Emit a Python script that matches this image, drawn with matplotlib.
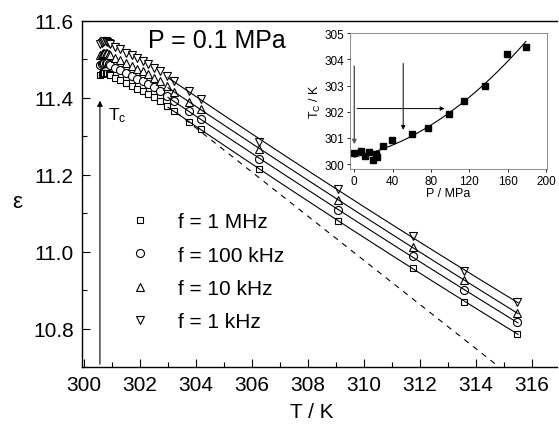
import numpy as np
import matplotlib
matplotlib.use("Agg")
import matplotlib.pyplot as plt
from matplotlib.ticker import MultipleLocator, FormatStrFormatter
from matplotlib.lines import Line2D

plt.rcParams['font.family'] = ['Liberation Sans', 'DejaVu Sans']
plt.rcParams['mathtext.default'] = 'regular'

# temperatures (K), shared by all four frequencies
T = [300.58, 300.63, 300.68, 300.73, 300.78, 300.83, 300.88, 300.93, 301.10, 301.30,
     301.50, 301.70, 301.90, 302.10, 302.30, 302.50, 302.70, 302.95, 303.20, 303.76,
     304.17, 306.26, 309.06, 311.76, 313.58, 315.45]

eps_1MHz = [11.460, 11.463, 11.465, 11.466, 11.466, 11.465, 11.463, 11.460, 11.452, 11.446,
            11.439, 11.431, 11.423, 11.418, 11.410, 11.401, 11.392, 11.380, 11.366, 11.337,
            11.319, 11.214, 11.080, 10.958, 10.870, 10.787]
eps_100kHz = [11.486, 11.488, 11.490, 11.491, 11.491, 11.490, 11.488, 11.485, 11.478, 11.472,
              11.465, 11.458, 11.450, 11.443, 11.435, 11.427, 11.418, 11.406, 11.391, 11.365,
              11.346, 11.240, 11.109, 10.989, 10.900, 10.816]
eps_10kHz = [11.512, 11.515, 11.517, 11.518, 11.518, 11.517, 11.515, 11.512, 11.505, 11.498,
             11.491, 11.484, 11.476, 11.469, 11.461, 11.452, 11.444, 11.432, 11.415, 11.390,
             11.371, 11.268, 11.134, 11.012, 10.925, 10.841]
eps_1kHz = [11.541, 11.544, 11.546, 11.547, 11.547, 11.546, 11.544, 11.540, 11.533, 11.526,
            11.518, 11.511, 11.503, 11.495, 11.487, 11.478, 11.470, 11.458, 11.443, 11.417,
            11.397, 11.286, 11.162, 11.042, 10.949, 10.869]

labels = ['f = 1 MHz', 'f = 100 kHz', 'f = 10 kHz', 'f = 1 kHz']
markers = ['s', 'o', '^', 'v']

# dashed reference line (two end points)
dash_T = [303.3, 315.0]
dash_eps = [11.362, 10.690]

# inset: Curie temperature vs pressure
P = [0, 7.0, 10.8, 15.5, 19.2, 22.7, 23.8, 30.0, 39.2, 60.2, 76.5, 98.8, 114.8, 136.4, 159.0, 179.1]
Tc = [300.43, 300.51, 300.31, 300.45, 300.14, 300.38, 300.27, 300.68, 300.90, 301.14,
      301.37, 301.92, 302.42, 303.00, 304.20, 304.49]

fig = plt.figure(figsize=(5.59, 4.27), dpi=100)
ax = fig.add_axes([0.1467, 0.1382, 0.8497, 0.8103])


def msize(m):
    return 5.0 if m == 's' else 5.8


series = [eps_1MHz, eps_100kHz, eps_10kHz, eps_1kHz]
Ta = np.array(T)
for eps, m in zip(series, markers):
    ax.plot(T, eps, linestyle='none', marker=m, markersize=msize(m),
            mfc='white', mec='black', mew=0.8)
    sel = Ta >= 303.0
    coef = np.polyfit(Ta[sel], np.array(eps)[sel], 2)
    tt = np.linspace(303.0, 315.5, 100)
    ax.plot(tt, np.polyval(coef, tt), color='black', lw=0.8)

ax.plot(dash_T, dash_eps, color='black', lw=0.8, ls=(0, (5, 5)))

ax.annotate('', xy=(300.57, 11.40), xytext=(300.57, 10.70),
            arrowprops=dict(arrowstyle='-|>', color='black', lw=0.8, mutation_scale=8))
ax.text(300.85, 11.357, 'T$_c$', fontsize=12.5, va='center', ha='left')
ax.text(302.3, 11.55, 'P = 0.1 MPa', fontsize=18, va='center', ha='left')

handles = [Line2D([], [], linestyle='none', marker=m, markersize=msize(m),
                  mfc='white', mec='black', mew=0.8) for m in markers]
ax.legend(handles, labels, loc='upper left', bbox_to_anchor=(0.083, 0.471), frameon=False,
          fontsize=15, handlelength=1.0, handletextpad=1.3, labelspacing=0.69,
          borderaxespad=0)

ax.set_xlim(299.93, 316.89)
ax.set_ylim(10.70, 11.60)
ax.xaxis.set_major_locator(MultipleLocator(2))
ax.xaxis.set_minor_locator(MultipleLocator(1))
ax.yaxis.set_major_locator(MultipleLocator(0.2))
ax.yaxis.set_minor_locator(MultipleLocator(0.1))
ax.yaxis.set_major_formatter(FormatStrFormatter('%.1f'))
ax.tick_params(which='both', direction='in', top=False, right=False, labelsize=15)
ax.tick_params(which='major', length=6, width=0.8, pad=6)
ax.tick_params(which='minor', length=3.5, width=0.8)
ax.spines['right'].set_visible(False)
for s in ['left', 'bottom', 'top']:
    ax.spines[s].set_linewidth(1.0)
ax.set_xlabel('T / K', fontsize=15)
ax.set_ylabel('ε', fontsize=16, rotation=0, va='center')
ax.xaxis.set_label_coords(0.484, -0.10)
ax.yaxis.set_label_coords(-0.137, 0.477)

# inset
ins = fig.add_axes([0.6261, 0.6019, 0.3519, 0.3185])
ins.plot(P, Tc, linestyle='none', marker='s', markersize=4.2, color='black')
c2 = np.polyfit(P, Tc, 2)
pp = np.linspace(0, 179, 100)
ins.plot(pp, np.polyval(c2, pp), color='black', lw=0.8)
arr = dict(arrowstyle='-|>', color='black', lw=0.7, mutation_scale=6)
ins.annotate('', xy=(0, 300.65), xytext=(0, 303.85), arrowprops=dict(arr, color='#555555', lw=1.0))
ins.annotate('', xy=(97, 302.12), xytext=(0, 302.12), arrowprops=arr)
ins.annotate('', xy=(51, 301.2), xytext=(51, 303.95), arrowprops=arr)
ins.set_xlim(-4.5, 200.7)
ins.set_ylim(299.81, 305.01)
ins.set_xticks([0, 40, 80, 120, 160, 200])
ins.set_yticks([300, 301, 302, 303, 304, 305])
ins.tick_params(direction='out', length=2.5, width=0.6, labelsize=8.5, pad=1.5)
for s in ins.spines.values():
    s.set_linewidth(0.6)
    s.set_color('#777777')
ins.set_xlabel('P / MPa', fontsize=9, labelpad=0)
ins.set_ylabel('T$_C$ / K', fontsize=9, labelpad=1)

fig.savefig('out.png', dpi=100)
